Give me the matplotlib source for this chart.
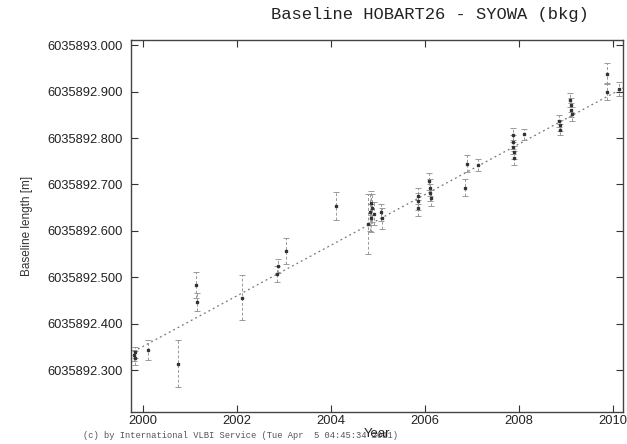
import matplotlib
matplotlib.use("Agg")
import matplotlib.pyplot as plt
import numpy as np

BASE = 6035892.0

years = [1999.80, 1999.82, 1999.84, 2000.10, 2000.75, 2001.12, 2001.14,
         2002.10, 2002.86, 2002.88, 2003.04, 2004.10,
         2004.78, 2004.82, 2004.85, 2004.86, 2004.88, 2004.92,
         2005.06, 2005.08,
         2005.84, 2005.85, 2005.86,
         2006.09, 2006.10, 2006.11, 2006.12,
         2006.85, 2006.90, 2007.12,
         2007.86, 2007.87, 2007.88, 2007.89, 2007.90,
         2008.10,
         2008.85, 2008.86, 2008.87,
         2009.09, 2009.10, 2009.11, 2009.12,
         2009.87, 2009.88, 2010.12]
values = [0.332, 0.325, 0.338, 0.343, 0.314, 0.483, 0.447,
          0.456, 0.507, 0.524, 0.556, 0.653,
          0.615, 0.640, 0.627, 0.660, 0.649, 0.637,
          0.640, 0.627,
          0.675, 0.664, 0.649,
          0.707, 0.693, 0.682, 0.671,
          0.693, 0.745, 0.742,
          0.806, 0.791, 0.780, 0.769, 0.758,
          0.808,
          0.837, 0.828, 0.818,
          0.882, 0.871, 0.860, 0.852,
          0.939, 0.900, 0.905]
errors = [0.012, 0.015, 0.012, 0.022, 0.050, 0.028, 0.020,
          0.048, 0.018, 0.015, 0.028, 0.030,
          0.065, 0.040, 0.030, 0.025, 0.030, 0.025,
          0.018, 0.022,
          0.018, 0.018, 0.018,
          0.018, 0.018, 0.018, 0.018,
          0.018, 0.018, 0.012,
          0.015, 0.015, 0.015, 0.015, 0.015,
          0.012,
          0.012, 0.012, 0.012,
          0.015, 0.015, 0.015, 0.015,
          0.022, 0.018, 0.015]
trend_years = [1999.80, 2010.21]
trend_values = [0.340, 0.908]

ytick_values = [0.3, 0.4, 0.5, 0.6, 0.7, 0.8, 0.9, 1.0]
xtick_years = [2000, 2002, 2004, 2006, 2008, 2010]

fig = plt.figure(figsize=(6.27, 4.44), dpi=100)
ax = fig.add_axes([131/627, 1 - 412/444, (623-131)/627, (412-40)/444])

y = BASE + np.array(values)
ty = BASE + np.array(trend_values)

ax.plot(trend_years, ty, linestyle=(0, (1.5, 2.5)), color="#777777", linewidth=0.9, zorder=1)
eb = ax.errorbar(years, y, yerr=errors, fmt="s", markersize=1.7, color="#333333",
                 ecolor="#999999", elinewidth=0.7, capsize=2, capthick=0.7, zorder=2)
for lc in eb[2]:
    lc.set_linestyle((0, (3, 2)))

ax.set_xlim(1999.745, 2010.21)
ax.set_ylim(BASE + 0.2095, BASE + 1.0115)
ax.set_xticks(xtick_years)
ax.set_xticklabels([str(v) for v in xtick_years])
ax.set_yticks([BASE + v for v in ytick_values])
ax.set_yticklabels(["%.3f" % (BASE + v) for v in ytick_values])

ax.tick_params(direction="in", length=5, width=0.8, top=True, right=True,
               labelsize=9.3, colors="#333333", labelcolor="#222222")
ax.tick_params(axis="x", pad=2.5)
ax.tick_params(axis="y", pad=6)
for s in ax.spines.values():
    s.set_color("#444444")
    s.set_linewidth(1.0)

for lab in ax.get_xticklabels() + ax.get_yticklabels():
    lab.set_family(["Liberation Sans", "DejaVu Sans"])

ax.set_ylabel("Baseline length [m]", fontsize=8.5, family=["Liberation Sans", "DejaVu Sans"],
              color="#333333", labelpad=10)

fig.text(83/627, 1 - 435/444, "(c) by International VLBI Service (Tue Apr  5 04:45:34 2011)",
         ha="left", va="center", fontsize=6.35, family=["Liberation Mono", "DejaVu Sans Mono"],
         color="#555555", zorder=4)
fig.text(0.5 * (131 + 623) / 627, 1 - 434/444, "Year", ha="center", va="center",
         fontsize=9.5, family=["Liberation Sans", "DejaVu Sans"], color="#222222", zorder=5)
fig.text(430/627, 1 - 15/444, "Baseline HOBART26 - SYOWA (bkg)", ha="center", va="center",
         fontsize=12.3, family=["Liberation Mono", "DejaVu Sans Mono"], color="#222222")

fig.savefig("out.png", dpi=100)
